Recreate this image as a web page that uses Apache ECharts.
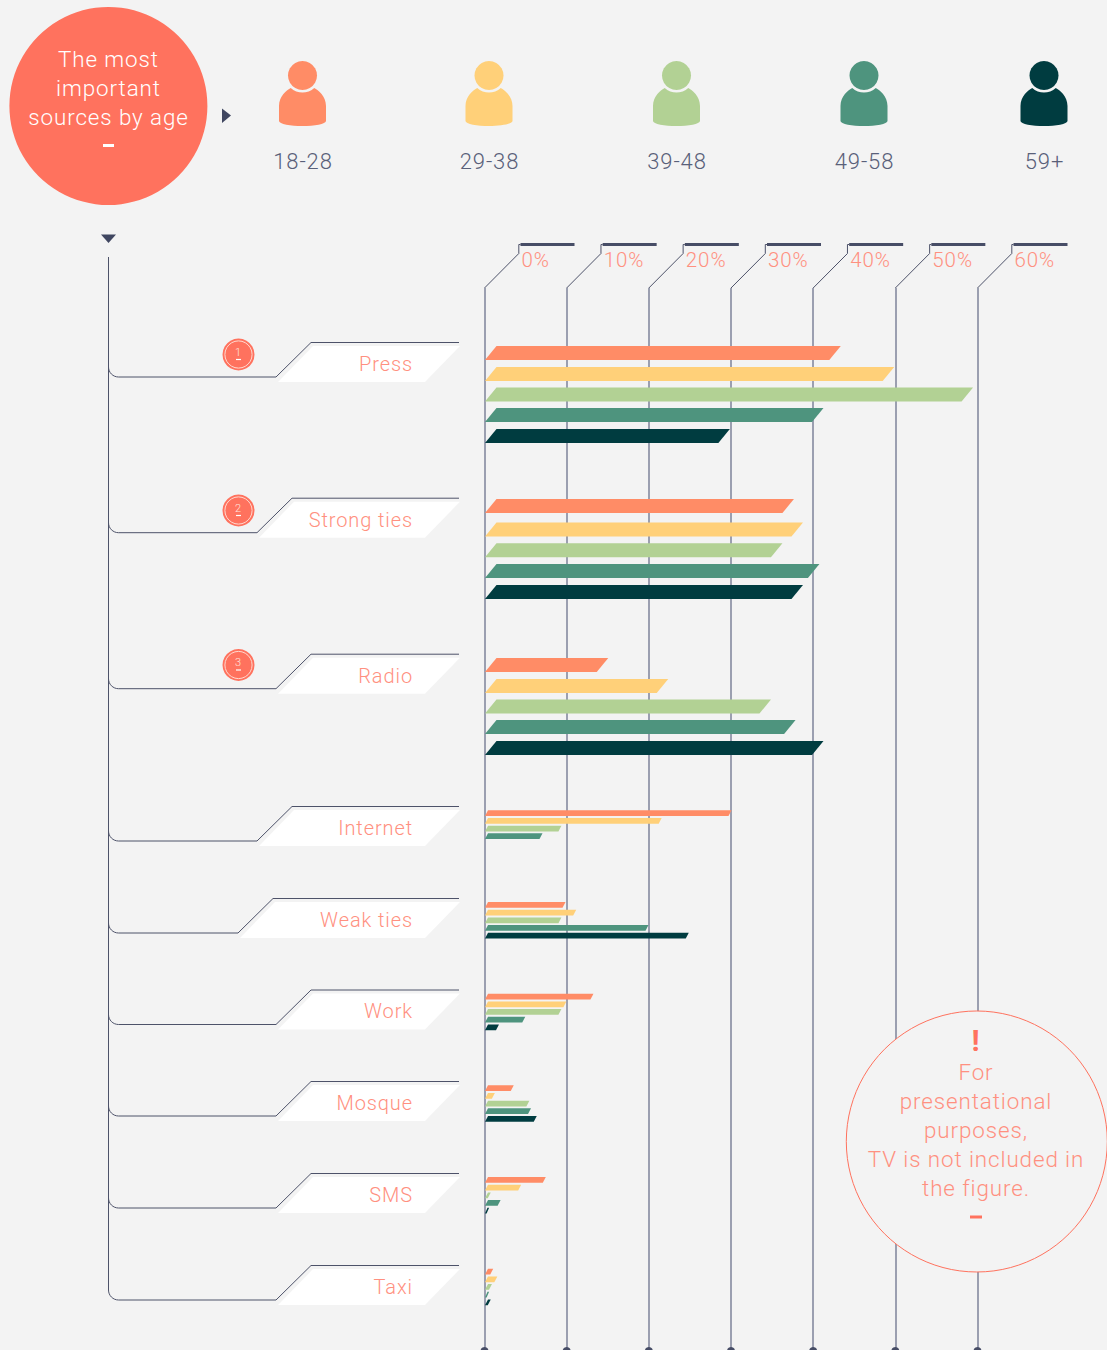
<!DOCTYPE html>
<html><head><meta charset="utf-8">
<style>
html,body{margin:0;padding:0;background:#f3f3f3}
#chart{width:1107px;height:1350px}
#chart text{letter-spacing:.9px}
</style>
<script src="https://cdn.jsdelivr.net/npm/echarts@6/dist/echarts.min.js"></script>
</head><body><div id="chart"></div>
<script>
// ---- data ----
const ageGroups = ['18-28','29-38','39-48','49-58','59+'];
const sources = ['Press','Strong ties','Radio','Internet','Weak ties','Work','Mosque','SMS','Taxi'];
const age18to28 = [43.3,37.6,15.0,30.0,9.8,13.2,3.5,7.4,1.0];
const age29to38 = [49.8,38.7,22.3,21.5,11.1,9.9,1.2,4.4,1.5];
const age39to48 = [59.4,36.2,34.8,9.3,9.3,9.3,5.4,0.7,0.85];
const age49to58 = [41.2,40.7,37.8,7.0,19.9,4.9,5.6,1.9,0.5];
const age59plus = [29.8,38.7,41.2,null,24.8,1.7,6.3,0.5,0.7];
const tickLabels = ['0%','10%','20%','30%','40%','50%','60%'];
const titleLines = ['The most','important','sources by age'];
const noteLines = ['For','presentational','purposes,','TV is not included in','the figure.'];

// ---- style and layout ----
const ageColors = ['#FF8C66','#FFD079','#B2D194','#4E947E','#003C40'];
const ink = '#4d5269', coral = '#FF725E', labelCoral = '#FF9080', bg = '#f3f3f3';
const FONT = 'Roboto';
const rowTops = [
  [346,367,387.5,408,429],[499,522.5,543.3,564,585],[658,679,699.5,720,741],
  [810.3,818,825.7,833.3,841],[902,909.7,917.4,925,932.7],[993.7,1001.4,1009,1016.7,1024.4],
  [1085.3,1093,1100.7,1108.3,1116],[1177,1184.7,1192.4,1200,1207.7],[1268.7,1276.4,1284,1291.7,1299.4]];
const branchY = [377,532.7,688.7,841,933,1024.5,1116,1208,1300];
const branchX = [276,257,276,257,238,276,276,276,276];
const labelY = [363.5,519.5,675.5,827.5,919.5,1010.5,1102.5,1194.5,1286.5];
const badgeY = [354.5,510.5,665];
const personX = [302.5,489,676.5,864,1044];
const bigGroups = 3;

const seriesValues = [age18to28,age29to38,age39to48,age49to58,age59plus];
const chart = echarts.init(document.getElementById('chart'),null,{renderer:'svg',width:1107,height:1350});

const txt = (text,x,y,size,fill,align,extra) => Object.assign({type:'text',z:30,silent:true,
  style:{text,x,y,fontFamily:FONT,fontWeight:300,fontSize:size,fill,align:align||'center',verticalAlign:'middle'}},extra||{});
const dash = (cx,cy,w,h,fill) => ({type:'rect',z:30,silent:true,shape:{x:cx-w/2,y:cy-h/2,width:w,height:h},style:{fill}});

const els = [];
// title circle
els.push({type:'circle',z:20,shape:{cx:108.4,cy:106,r:99},style:{fill:coral}});
titleLines.forEach((t,i)=>els.push(txt(t,108.5,59+29*i,22.4,'#fff')));
els.push(dash(108.5,145.5,11,3,'#fff'));
els.push({type:'polygon',z:20,shape:{points:[[222,108.5],[231,115.5],[222,123]]},style:{fill:'#3f4660'}});
els.push({type:'polygon',z:20,shape:{points:[[101,234.5],[116,234.5],[108.5,243]]},style:{fill:'#3f4660'}});
// people
personX.forEach((cx,i)=>{
  els.push({type:'circle',z:20,shape:{cx,cy:75.5,r:14.5},style:{fill:ageColors[i]}});
  els.push(txt(ageGroups[i],cx+.5,161,22,'#596079'));
});
const bodyPath='M0,18C0,8 8,2 12,0C15,3 20,4.5 24,4.5C28,4.5 33,3 36,0C40,2 48,8 48,18L48,33C48,36 36,38 24,38C12,38 0,36 0,33Z';
const people = {type:'custom',coordinateSystem:'none',z:5,silent:true,
  data:personX.map((x,i)=>[i]),
  renderItem(p,api){
    const i=api.value(0);
    return {type:'path',shape:{pathData:bodyPath,layout:'cover',x:personX[i]-23.5,y:88,width:47,height:38},style:{fill:ageColors[i]}};
  }};
// branches and labels
els.push({type:'polyline',z:12,shape:{points:[[108.5,257],[108.5,1290]]},style:{stroke:ink,lineWidth:1,fill:null}});
sources.forEach((s,i)=>{
  const y=branchY[i],x=branchX[i],pts=[[108.5,y-10]];
  for(let a=1;a<=8;a++){const t=a/8*Math.PI/2;pts.push([118.5-10*Math.cos(t),y-10+10*Math.sin(t)]);}
  pts.push([x,y],[x+35,y-34.5],[459,y-34.5]);
  els.push({type:'polygon',z:10,shape:{points:[[x+37,y-31],[460,y-31],[425,y+5],[x+2,y+5]]},style:{fill:'#fff'}});
  els.push({type:'polyline',z:12,shape:{points:pts},style:{stroke:ink,lineWidth:1,fill:null}});
  els.push(txt(s,413,labelY[i],20,labelCoral,'right'));
});
// rank badges
badgeY.forEach((y,i)=>{
  els.push({type:'circle',z:20,shape:{cx:238.5,cy:y,r:16},style:{fill:coral}});
  els.push({type:'circle',z:21,shape:{cx:238.5,cy:y,r:13.6},style:{fill:coral,stroke:'#ffd9cf',lineWidth:1}});
  els.push(txt(String(i+1),238.5,y-2.5,11,'#ffe3dc'));
  els.push(dash(238.5,y+5,5,1.2,'#fff'));
});
// note
els.push({type:'circle',z:20,shape:{cx:976.8,cy:1141.5,r:130.5},style:{fill:bg,stroke:coral,lineWidth:1}});
els.push(txt('!',976,1040,30,coral));
els[els.length-1].style.fontWeight=700;
noteLines.forEach((t,i)=>els.push(txt(t,976,1072+29*i,22.4,labelCoral)));
els.push(dash(976,1217,12,3,coral));

function barRender(ageIdx){
  return function(p,api){
    const v=api.value(0),g=api.value(1);
    if(v==null||isNaN(v))return null;
    const big=g<bigGroups,h=big?14:5.8;
    const top=rowTops[g][ageIdx];
    const a=api.coord([0,top]),b=api.coord([v,top+h]);
    const x0=a[0]+.5,xv=b[0]+.5,yt=a[1],yb=b[1];
    const s=Math.min(big?11.5:3,(xv-x0)*.6);
    return {type:'polygon',shape:{points:[[x0,yb],[x0+s,yt],[xv,yt],[xv-s,yb]]},style:{fill:ageColors[ageIdx]}};
  };
}
const bars = ageGroups.map((name,i)=>({
  type:'custom',name,coordinateSystem:'cartesian2d',z:5,silent:true,clip:false,
  encode:{x:0,y:1},
  data:seriesValues[i].map((v,g)=>[v,g]),
  renderItem:barRender(i)
}));
const scaffold = {
  type:'custom',coordinateSystem:'cartesian2d',z:1,silent:true,clip:false,encode:{x:0,y:1},
  data:tickLabels.map((t,i)=>[i*10,288]),
  renderItem(p,api){
    const c=api.coord([api.value(0),288]),x=c[0],y=c[1],bot=api.coord([api.value(0),1350])[1];
    return {type:'group',children:[
      {type:'polyline',shape:{points:[[x,y],[x+34.3,253.5],[x+34.3,244.5],[x+36,244.5]]},style:{stroke:ink,lineWidth:1,fill:null}},
      {type:'rect',shape:{x:x+36,y:243,width:54,height:3},style:{fill:'#474d66'}},
      {type:'circle',shape:{cx:x,cy:bot+1,r:4},style:{fill:'#474d66'}}
    ]};
  }
};
chart.setOption({
  animation:false,backgroundColor:bg,
  grid:{left:484.5,width:493,top:288,height:1062,containLabel:false},
  xAxis:{type:'value',position:'top',min:0,max:60,interval:10,
    axisLine:{show:false},axisTick:{show:false},
    splitLine:{show:true,lineStyle:{color:'#858a9f',width:1.6}},
    axisLabel:{show:true,margin:18,align:'left',padding:[0,0,0,37],fontFamily:FONT,fontWeight:300,fontSize:20.5,color:labelCoral,
      formatter:v=>tickLabels[v/10]}},
  yAxis:{type:'value',min:288,max:1350,inverse:true,show:false,splitLine:{show:false}},
  series:[scaffold,people].concat(bars),
  graphic:{elements:els}
});
</script></body></html>
